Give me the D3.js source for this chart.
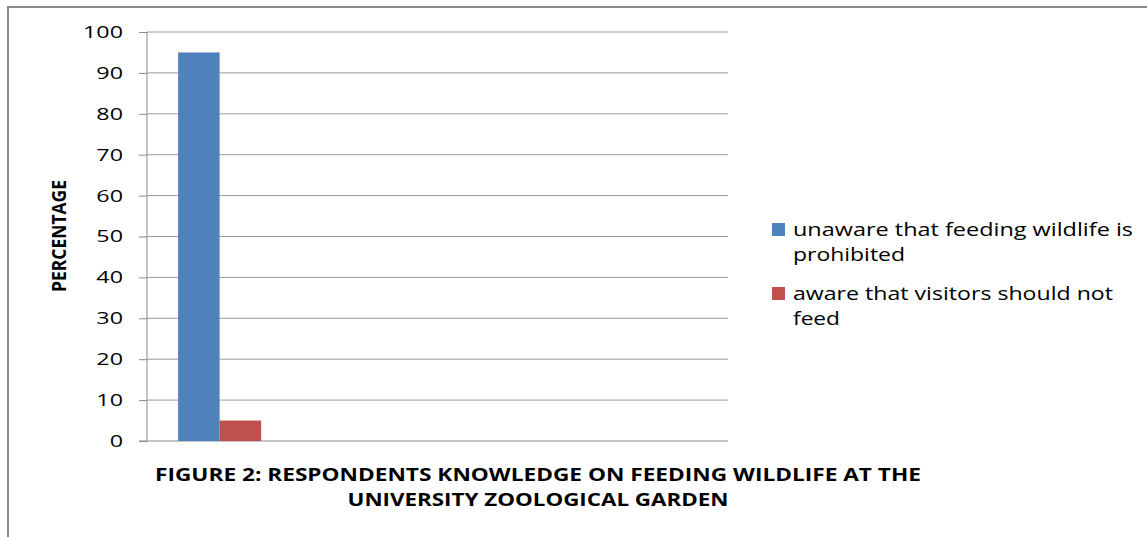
<!DOCTYPE html>
<html>
<head>
<meta charset="utf-8">
<script src="https://cdn.jsdelivr.net/npm/d3@7"></script>
<style>
  html, body { margin: 0; padding: 0; background: #fff; }
  svg { display: block; }
</style>
</head>
<body>
<svg id="chart" width="1147" height="537"></svg>
<script>
// ---- data ----
const categories = ["c1", "c2", "c3", "c4"];
const categoryLabels = ["", "", "", ""];
const seriesNames = ["unaware that feeding wildlife is prohibited", "aware that visitors should not feed"];
const unawareValues = [95, null, null, null];
const awareValues = [5, null, null, null];
const yTicks = [0, 10, 20, 30, 40, 50, 60, 70, 80, 90, 100];
const titleLines = ["FIGURE 2: RESPONDENTS KNOWLEDGE ON FEEDING WILDLIFE AT THE", "UNIVERSITY ZOOLOGICAL GARDEN"];
const yAxisTitle = "PERCENTAGE";
const legendLines = [["unaware that feeding wildlife is", "prohibited"], ["aware that visitors should not", "feed"]];
const colors = ["#4F81BD", "#C0504D"];

(function () {
const svg = d3.select("#chart");
const W = 1147, H = 537;
const mLeft = 147, mRight = 728, mTop = 32, mBottom = 441;

// outer frame
svg.append("path")
  .attr("d", `M8,${H} V7 H${W}`)
  .attr("fill", "none").attr("stroke", "#8a8a8a").attr("stroke-width", 2);

const x0 = d3.scaleBand().domain(categories).range([mLeft, mRight]).paddingInner(0).paddingOuter(0);
const x1 = d3.scaleBand().domain(seriesNames).range([0, x0.bandwidth()]).paddingInner(0).paddingOuter(0.75);
const y = d3.scaleLinear().domain([0, 100]).range([mBottom, mTop]);

// gridlines
svg.append("g").selectAll("line").data(yTicks.filter(d => d > 0)).join("line")
  .attr("x1", mLeft).attr("x2", mRight)
  .attr("y1", d => y(d)).attr("y2", d => y(d))
  .attr("stroke", "#9a9a9a").attr("stroke-width", 1);

// y axis
const yAxis = d3.axisLeft(y).tickValues(yTicks).tickSize(8).tickPadding(16);
const gy = svg.append("g").attr("transform", `translate(${mLeft},0)`).call(yAxis);
gy.select(".domain").attr("stroke", "#8a8a8a").attr("d", `M0,${mTop}V${mBottom}`);
gy.selectAll(".tick line").attr("stroke", "#8a8a8a");
gy.selectAll(".tick text")
  .attr("font-family", "'Open Sans', sans-serif").attr("font-size", 17).attr("fill", "#000");

// x axis baseline
const xAxis = d3.axisBottom(x0).tickSize(0).tickFormat((d, i) => categoryLabels[i]);
const gx = svg.append("g").attr("transform", `translate(0,${mBottom})`).call(xAxis);
gx.select(".domain").attr("stroke", "#8a8a8a").attr("d", `M${mLeft - 8},0H${mRight}`);

// bars
const seriesData = [unawareValues, awareValues];
seriesNames.forEach((s, si) => {
  svg.append("g").selectAll("rect")
    .data(categories.map((c, i) => ({ c, v: seriesData[si][i] })).filter(d => d.v != null))
    .join("rect")
    .attr("x", d => x0(d.c) + x1(s))
    .attr("width", x1.bandwidth())
    .attr("y", d => y(d.v))
    .attr("height", d => y(0) - y(d.v))
    .attr("fill", colors[si]);
});

function fit(sel, w) {
  sel.attr("textLength", w).attr("lengthAdjust", "spacingAndGlyphs");
}

// stretch tick labels horizontally
const t100 = gy.selectAll(".tick text").filter(d => d === 100).node();
const stretch = 40 / t100.getComputedTextLength();
gy.selectAll(".tick text").each(function () {
  const n = this.getComputedTextLength();
  d3.select(this).attr("textLength", n * stretch).attr("lengthAdjust", "spacingAndGlyphs");
});

// y axis title
const yt = svg.append("text")
  .attr("transform", "translate(66,236) rotate(-90)")
  .attr("text-anchor", "middle")
  .attr("font-family", "'Open Sans', sans-serif").attr("font-weight", "bold").attr("font-size", 19)
  .text(yAxisTitle);
fit(yt, 112);

// title
const titleWidths = [766, 381];
titleLines.forEach((t, i) => {
  const tt = svg.append("text")
    .attr("x", 538).attr("y", 481 + i * 25)
    .attr("text-anchor", "middle")
    .attr("font-family", "'Open Sans', sans-serif").attr("font-weight", "bold").attr("font-size", 17)
    .text(t);
  fit(tt, titleWidths[i]);
});

// legend
const legendWidths = [[340, 112], [320, 47]];
const legendY = [236, 300];
legendLines.forEach((lines, si) => {
  svg.append("rect")
    .attr("x", 772).attr("y", legendY[si] - 13).attr("width", 13).attr("height", 13)
    .attr("fill", colors[si]);
  lines.forEach((l, li) => {
    const lt = svg.append("text")
      .attr("x", 793).attr("y", legendY[si] + li * 25)
      .attr("font-family", "'Open Sans', sans-serif").attr("font-size", 18)
      .text(l);
    fit(lt, legendWidths[si][li]);
  });
});
})();
</script>
</body>
</html>
